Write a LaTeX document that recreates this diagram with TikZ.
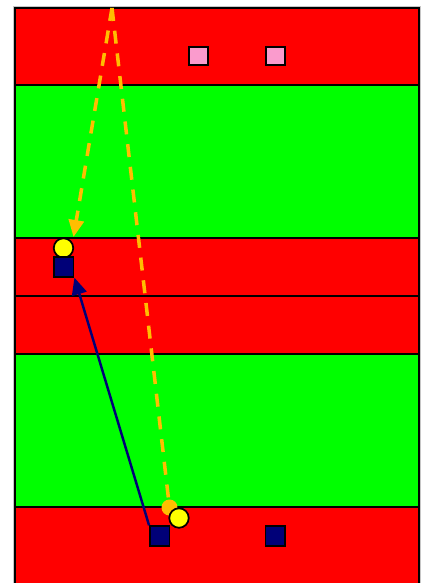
\documentclass[tikz,border=0pt]{standalone}
\usetikzlibrary{arrows.meta}
\definecolor{courtred}{RGB}{255,0,0}
\definecolor{courtgreen}{RGB}{0,255,0}
\definecolor{conepink}{RGB}{250,155,205}
\definecolor{playernavy}{RGB}{0,0,120}
\definecolor{ballyellow}{RGB}{255,255,0}
\definecolor{passorange}{RGB}{255,190,0}
\tikzset{
  zone/.style={draw=black, line width=1.1pt},
  redzone/.style={zone, fill=courtred},
  greenzone/.style={zone, fill=courtgreen},
  cone/.style={rectangle, draw=black, fill=conepink, line width=1pt,
               minimum size=0.37cm, inner sep=0pt},
  player/.style={rectangle, draw=black, fill=playernavy, line width=1pt,
                 minimum size=0.39cm, inner sep=0pt},
  ball/.style={circle, draw=black, fill=ballyellow, line width=1pt,
               minimum size=0.39cm, inner sep=0pt},
  balldot/.style={circle, fill=passorange, minimum size=0.32cm, inner sep=0pt},
  run/.style={-{Triangle[length=3.4mm,width=3mm]}, line width=1.4pt, playernavy},
  pass/.style={passorange, line width=2pt, dash pattern=on 7.4pt off 5.6pt},
  passtip/.style={pass, -{Triangle[length=3.4mm,width=3mm]}}
}

\begin{document}
\begin{tikzpicture}[x=0.02cm, y=-0.02cm]
\useasboundingbox (0,0) rectangle (427,583);
% court
\draw[gray!45, line width=0.6pt] (14,7) rectangle (420,600);
\draw[redzone] (15,8) rectangle (419,85);
\draw[greenzone] (15,85) rectangle (419,238);
\draw[redzone] (15,238) rectangle (419,296);
\draw[redzone] (15,296) rectangle (419,354);
\draw[greenzone] (15,354) rectangle (419,507);
\draw[redzone] (15,507) rectangle (419,600);
% cones
\node[cone] (c1) at (198.5,56) {};
\node[cone] (c2) at (275.5,56) {};
% players and balls
\node[ball] (b1) at (63.5,248) {};
\node[player] (p1) at (63.8,267) {};
\node[player] (p2) at (159.7,536) {};
\node[player] (p3) at (275.3,536) {};
\node[balldot] (d1) at (169.5,507.5) {};
\node[ball] (b2) at (179,518) {};
% moves
\coordinate (kick) at (112,8);
\coordinate (recv) at (73.5,237);
\draw[passtip] (kick) -- (recv);
\draw[pass] (kick) -- (d1);
\draw[run] (p2.north west) -- (p1.south east);
\end{tikzpicture}
\end{document}
